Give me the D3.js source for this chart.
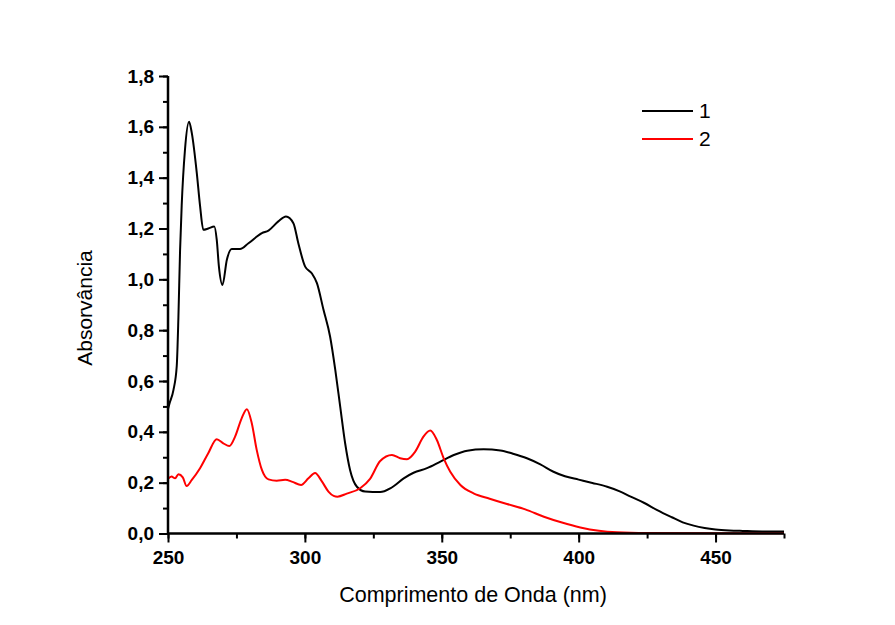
<!DOCTYPE html>
<html>
<head>
<meta charset="utf-8">
<script src="https://cdn.jsdelivr.net/npm/d3@7"></script>
<style>
html,body{margin:0;padding:0;background:#fff;}
svg{display:block;}
text{font-family:Arial,"Liberation Sans",sans-serif;}
</style>
</head>
<body>
<svg id="chart" width="895" height="625"></svg>
<script>
// Series 1 (black): [wavelength nm, absorbance]
const series1 = [
 [250,0.49],[250.5,0.51],[252,0.565],[253.2,0.66],[253.8,0.85],[254.4,1.11],[255,1.29],[256.2,1.51],
 [257.7,1.62],[258.7,1.575],[260.5,1.42],[261.7,1.29],[262.9,1.195],[264.7,1.2],[266.9,1.208],
 [267.8,1.156],[268.6,1.05],[269.9,0.978],[271.5,1.077],[273.3,1.119],[276.3,1.119],[279.4,1.142],
 [284.3,1.182],[286.7,1.192],[290.3,1.228],[293.1,1.247],[295.8,1.221],[297.6,1.142],[300.1,1.05],
 [302.5,1.024],[304.4,0.985],[306.8,0.88],[309.2,0.775],[311.1,0.644],[312.9,0.499],[314.7,0.355],
 [316.5,0.25],[319,0.184],[322,0.165],[327.5,0.163],[331.2,0.178],[332.4,0.186],[336.1,0.217],
 [339.7,0.239],[344.6,0.257],[349.5,0.283],[354.4,0.309],[359.3,0.326],[365.3,0.331],[371.4,0.327],
 [376,0.314],[381.1,0.296],[386,0.272],[390.8,0.243],[395,0.225],[400,0.212],[405,0.199],
 [410.4,0.184],[415,0.166],[419,0.145],[424,0.12],[428.7,0.092],[434,0.064],[438,0.044],[442,0.031],
 [446,0.022],[450,0.016],[455,0.012],[460,0.01],[467,0.008],[475,0.008]
];
// Series 2 (red)
const series2 = [
 [250,0.215],[251.3,0.224],[252.6,0.217],[253.8,0.233],[255.4,0.221],[256.8,0.187],[258.7,0.211],
 [261.7,0.257],[264.7,0.316],[267.8,0.371],[270.2,0.355],[272.4,0.344],[274.5,0.381],[276.9,0.453],
 [278.8,0.489],[280.6,0.434],[282.4,0.329],[284.3,0.25],[286.7,0.213],[289.7,0.208],[292.8,0.211],
 [295.5,0.203],[298.6,0.191],[301.3,0.217],[303.7,0.238],[306.2,0.205],[308.6,0.165],[310.5,0.148],
 [311.9,0.145],[315.3,0.157],[320.2,0.178],[323.8,0.215],[327.5,0.285],[331.8,0.309],[334.8,0.296],
 [337.3,0.292],[340.3,0.322],[343.3,0.381],[345.8,0.405],[348.2,0.368],[350.7,0.296],[353.1,0.243],
 [356.8,0.191],[361.6,0.158],[367.5,0.137],[373.8,0.116],[380.5,0.095],[387.3,0.066],[393.9,0.043],
 [400.6,0.024],[407.4,0.011],[414,0.005],[425,0.002],[450,0.001],[475,0.001]
];
const seriesNames = ["1","2"];
const seriesColors = ["#000000","#ff0000"];
const xTicks = [250,300,350,400,450];
const yTicks = [0,0.2,0.4,0.6,0.8,1.0,1.2,1.4,1.6,1.8];
const xTitle = "Comprimento de Onda (nm)";
const yTitle = "Absorvância";

const svg = d3.select("#chart");
const x = d3.scaleLinear().domain([250,475]).range([168,784]);
const y = d3.scaleLinear().domain([0,1.8]).range([533.5,76]);
const fmt = d => d3.format(".1f")(d).replace(".",",");

// curves
const line = d3.line().x(d=>x(d[0])).y(d=>y(d[1])).curve(d3.curveMonotoneX);
[series1,series2].forEach((s,i)=>{
  svg.append("path").datum(s).attr("d",line).attr("fill","none")
    .attr("stroke",seriesColors[i]).attr("stroke-width",2).attr("stroke-linejoin","round");
});

// x axis
const xMinor = d3.range(250,476,25);
const gx = svg.append("g").attr("transform",`translate(0,${y(0)})`);
gx.call(d3.axisBottom(x).tickValues(xMinor).tickSize(5).tickFormat(""));
gx.call(g=>g.select(".domain").remove());
const gx2 = svg.append("g").attr("transform",`translate(0,${y(0)})`);
gx2.call(d3.axisBottom(x).tickValues(xTicks).tickSize(9).tickPadding(8).tickFormat(d3.format("d")));
gx.selectAll("line").attr("stroke","#000").attr("stroke-width",2);
gx2.selectAll("line").attr("stroke","#000").attr("stroke-width",2);
gx2.select(".domain").attr("stroke","#000").attr("stroke-width",2.5).attr("d",`M${x(250)},0H${x(475)}`);
gx2.selectAll("text").attr("font-size",19).attr("font-weight","bold").attr("fill","#000")
   .attr("font-family","Arial, 'Liberation Sans', sans-serif");

// y axis
const yMinor = d3.range(0,1.801,0.1);
const gy = svg.append("g").attr("transform",`translate(${x(250)},0)`);
gy.call(d3.axisLeft(y).tickValues(yMinor).tickSize(5).tickFormat(""));
gy.call(g=>g.select(".domain").remove());
const gy2 = svg.append("g").attr("transform",`translate(${x(250)},0)`);
gy2.call(d3.axisLeft(y).tickValues(yTicks).tickSize(9).tickPadding(5).tickFormat(fmt));
gy.selectAll("line").attr("stroke","#000").attr("stroke-width",2);
gy2.selectAll("line").attr("stroke","#000").attr("stroke-width",2);
gy2.select(".domain").attr("stroke","#000").attr("stroke-width",2.5).attr("d",`M0,${y(0)}V${y(1.8)}`);
gy2.selectAll("text").attr("font-size",19).attr("font-weight","bold").attr("fill","#000")
   .attr("font-family","Arial, 'Liberation Sans', sans-serif");

// titles
svg.append("text").attr("x",473).attr("y",602).attr("text-anchor","middle")
  .attr("font-size",21.5).attr("fill","#000").text(xTitle);
svg.append("text").attr("transform","translate(92,308) rotate(-90)").attr("text-anchor","middle")
  .attr("font-size",21).attr("fill","#000").text(yTitle);

// legend
seriesNames.forEach((n,i)=>{
  const ly = 111 + i*28;
  svg.append("line").attr("x1",642).attr("x2",693).attr("y1",ly).attr("y2",ly)
    .attr("stroke",seriesColors[i]).attr("stroke-width",2);
  svg.append("text").attr("x",699).attr("y",ly+7).attr("font-size",21).attr("fill","#000").text(n);
});
</script>
</body>
</html>
